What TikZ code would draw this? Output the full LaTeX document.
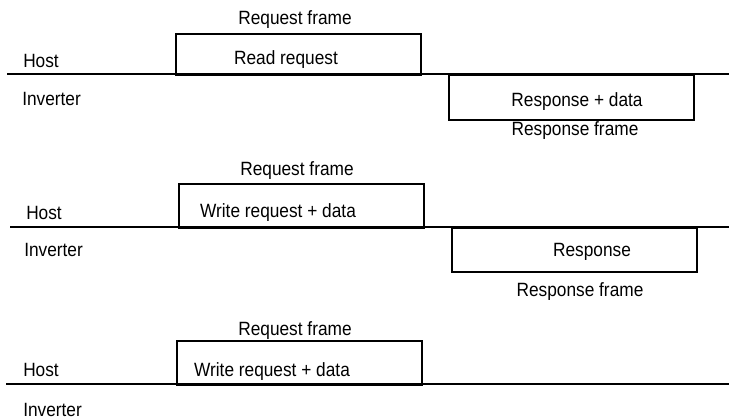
\documentclass[tikz,border=0pt]{standalone}
\usepackage{graphicx}
\usepackage{fontspec}
\setmainfont{Liberation Sans}
\newdimen\pxu \pxu=0.75pt
\newcommand\narrowtxt[1]{\scalebox{0.9}[1]{#1}}
\begin{document}
\begin{tikzpicture}[x=0.75pt,y=-0.75pt,
  lbl/.style={inner sep=0pt,anchor=base,font=\fontsize{14.4}{16}\selectfont},
  lblw/.style={inner sep=0pt,anchor=base west,font=\fontsize{14.4}{16}\selectfont},
  framebox/.style={draw,line width=1.4pt,inner sep=0pt,anchor=north west,minimum width=245\pxu,minimum height=44\pxu},
  busline/.style={line width=1.4pt}]
\useasboundingbox (0,0) rectangle (729,420);
% ---- section 1 ----
\coordinate (l1a) at (7,74);
\coordinate (l1b) at (729,74);
\draw[busline] (l1a) -- (l1b);
\node[framebox,minimum height=41\pxu] (b1) at (175,33) {};
\node[framebox,minimum height=45\pxu] (b2) at (448,74) {};
\node[lbl] (rf1) at (295,25) {\narrowtxt{Request frame}};
\node[lbl] (t1) at (286,65) {\narrowtxt{Read request}};
\node[lblw] (h1) at (23,68) {\narrowtxt{Host}};
\node[lblw] (i1) at (22,106) {\narrowtxt{Inverter}};
\node[lbl] (t2) at (577,107) {\narrowtxt{Response + data}};
\node[lbl] (sf1) at (575,136) {\narrowtxt{Response frame}};
% ---- section 2 ----
\coordinate (l2a) at (10,227);
\coordinate (l2b) at (729,227);
\draw[busline] (l2a) -- (l2b);
\node[framebox] (b3) at (178,183) {};
\node[framebox] (b4) at (451,227) {};
\node[lbl] (rf2) at (297,176) {\narrowtxt{Request frame}};
\node[lbl] (t3) at (278,218) {\narrowtxt{Write request + data}};
\node[lblw] (h2) at (26,220) {\narrowtxt{Host}};
\node[lblw] (i2) at (24,257) {\narrowtxt{Inverter}};
\node[lbl] (t4) at (592,257) {\narrowtxt{Response}};
\node[lbl] (sf2) at (580,297) {\narrowtxt{Response frame}};
% ---- section 3 ----
\coordinate (l3a) at (6,384);
\coordinate (l3b) at (729,384);
\draw[busline] (l3a) -- (l3b);
\node[framebox] (b5) at (176,340) {};
\node[lbl] (rf3) at (295,336) {\narrowtxt{Request frame}};
\node[lbl] (t5) at (272,377) {\narrowtxt{Write request + data}};
\node[lblw] (h3) at (23,377) {\narrowtxt{Host}};
\node[lblw] (i3) at (23,417) {\narrowtxt{Inverter}};
\end{tikzpicture}
\end{document}
